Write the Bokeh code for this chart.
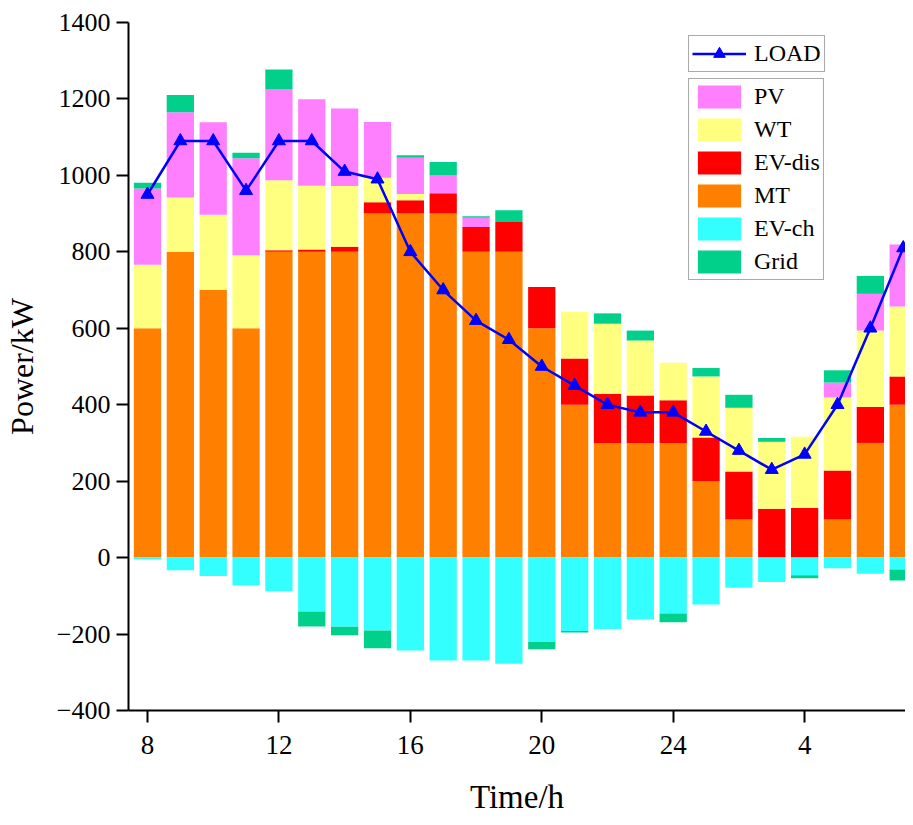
import numpy as np
from bokeh.plotting import figure
from bokeh.models import FixedTicker, Legend, LegendItem, Range1d
from bokeh.embed import file_html
from bokeh.resources import INLINE

hours = list(range(8, 32))
mt = [600, 800, 700, 600, 800, 800, 800, 900, 900, 900, 800, 800, 600, 400, 300, 300, 300, 200, 100, 0, 0, 100, 300, 400]
ev_dis = [0, 0, 0, 0, 4, 6, 13, 30, 35, 53, 65, 78, 108, 121, 129, 124, 112, 114, 125, 128, 130, 128, 94, 74]
wt = [166, 142, 197, 191, 183, 167, 159, 64, 16, 0, 0, 0, 0, 122, 183, 144, 98, 160, 167, 175, 186, 191, 200, 183]
pv = [200, 223, 242, 254, 238, 226, 203, 146, 95, 47, 24, 0, 0, 0, 0, 0, 0, 0, 0, 0, 0, 39, 96, 162]
grid = [15, 45, 0, 14, 52, -39, -22, -46, 7, 35, 4, 31, -19, -4, 27, 26, -23, 22, 34, 10, -8, 32, 47, -29]
ev_ch = [-4, -33, -48, -73, -88, -141, -181, -191, -243, -269, -269, -278, -221, -192, -187, -162, -146, -123, -79, -64, -46, -28, -42, -31]
load = [950, 1090, 1090, 960, 1090, 1090, 1010, 990, 800, 700, 620, 570, 500, 450, 400, 380, 380, 330, 280, 230, 270, 400, 600, 810]
x_ticks = [8, 12, 16, 20, 24, 28]
x_tick_labels = ["8", "12", "16", "20", "24", "4"]
y_ticks = [-400, -200, 0, 200, 400, 600, 800, 1000, 1200, 1400]

colors = {"PV": "#FF80FF", "WT": "#FFFF80", "EV-dis": "#FF0000", "MT": "#FF8000",
          "EV-ch": "#33FFFF", "Grid": "#00D08A"}

x = np.array(hours, dtype=float)
mt_a = np.array(mt, float)
evd_a = np.array(ev_dis, float)
wt_a = np.array(wt, float)
pv_a = np.array(pv, float)
grid_a = np.array(grid, float)
evc_a = np.array(ev_ch, float)

b_mt0, b_mt1 = np.zeros_like(x), mt_a
b_evd0, b_evd1 = b_mt1, b_mt1 + evd_a
b_wt0, b_wt1 = b_evd1, b_evd1 + wt_a
b_pv0, b_pv1 = b_wt1, b_wt1 + pv_a
gpos = np.clip(grid_a, 0, None)
gneg = np.clip(grid_a, None, 0)
b_gp0, b_gp1 = b_pv1, b_pv1 + gpos
b_evc0, b_evc1 = np.zeros_like(x), evc_a
b_gn0, b_gn1 = evc_a, evc_a + gneg

FONT = "Liberation Serif"

p = figure(width=905, height=817, output_backend="svg", toolbar_location=None,
           x_range=Range1d(7.422, 31.07), y_range=Range1d(-400, 1400),
           min_border_left=120, min_border_right=0, min_border_top=22, min_border_bottom=98)
p.outline_line_color = None
p.xgrid.visible = False
p.ygrid.visible = False
p.background_fill_color = "white"

W = 0.83
r_mt = p.vbar(x=x, bottom=b_mt0, top=b_mt1, width=W, fill_color=colors["MT"], line_color=None)
r_evd = p.vbar(x=x, bottom=b_evd0, top=b_evd1, width=W, fill_color=colors["EV-dis"], line_color=None)
r_wt = p.vbar(x=x, bottom=b_wt0, top=b_wt1, width=W, fill_color=colors["WT"], line_color=None)
r_pv = p.vbar(x=x, bottom=b_pv0, top=b_pv1, width=W, fill_color=colors["PV"], line_color=None)
r_gp = p.vbar(x=x, bottom=b_gp0, top=b_gp1, width=W, fill_color=colors["Grid"], line_color=None)
r_evc = p.vbar(x=x, bottom=b_evc0, top=b_evc1, width=W, fill_color=colors["EV-ch"], line_color=None)
r_gn = p.vbar(x=x, bottom=b_gn0, top=b_gn1, width=W, fill_color=colors["Grid"], line_color=None)

r_line = p.line(x=x, y=load, line_color="#0000FF", line_width=2.5)
r_mk = p.scatter(x=x, y=load, marker="triangle", size=13, fill_color="#0000FF", line_color="#0000FF")

for ax in (p.xaxis[0], p.yaxis[0]):
    ax.axis_line_width = 2
    ax.axis_line_color = "black"
    ax.major_tick_line_width = 2
    ax.major_tick_out = 12
    ax.major_tick_in = 0
    ax.minor_tick_out = 0
    ax.minor_tick_in = 0
    ax.major_label_text_font = FONT
    ax.major_label_text_font_size = "27px"
    ax.major_label_text_color = "black"
    ax.axis_label_text_font = FONT
    ax.axis_label_text_font_size = "32px"
    ax.axis_label_text_font_style = "normal"
    ax.axis_label_text_color = "black"

p.xaxis.ticker = FixedTicker(ticks=x_ticks)
p.xaxis.major_label_overrides = {t: l for t, l in zip(x_ticks, x_tick_labels)}
p.xaxis.axis_label = "Time/h"
p.xaxis.major_label_standoff = 13
p.xaxis.axis_label_standoff = 22
p.xaxis.axis_label_text_font_size = "33px"

p.yaxis.ticker = FixedTicker(ticks=y_ticks)
p.yaxis.major_label_overrides = {t: (str(t).replace("-", "\u2212")) for t in y_ticks}
p.yaxis.axis_label = "Power/kW"
p.yaxis.major_label_standoff = 6
p.yaxis.axis_label_standoff = 14
p.yaxis.major_label_text_font_size = "26px"

def style_legend(lg):
    lg.label_text_font = FONT
    lg.label_text_font_size = "24px"
    lg.label_text_color = "black"
    lg.glyph_width = 54
    lg.glyph_height = 29
    lg.label_height = 29
    lg.spacing = 4
    lg.padding = 3
    lg.margin = 0
    lg.label_standoff = 8
    lg.border_line_color = "#555555"
    lg.border_line_width = 1.5
    lg.background_fill_color = "white"
    lg.background_fill_alpha = 1

leg1 = Legend(items=[LegendItem(label="LOAD", renderers=[r_line, r_mk])], location=(560, 638))
style_legend(leg1)
leg2 = Legend(items=[
    LegendItem(label="PV", renderers=[r_pv]),
    LegendItem(label="WT", renderers=[r_wt]),
    LegendItem(label="EV-dis", renderers=[r_evd]),
    LegendItem(label="MT", renderers=[r_mt]),
    LegendItem(label="EV-ch", renderers=[r_evc]),
    LegendItem(label="Grid", renderers=[r_gp]),
], location=(560, 430))
style_legend(leg2)
p.add_layout(leg1, "center")
p.add_layout(leg2, "center")

open("out.html", "w").write(file_html(p, INLINE))
